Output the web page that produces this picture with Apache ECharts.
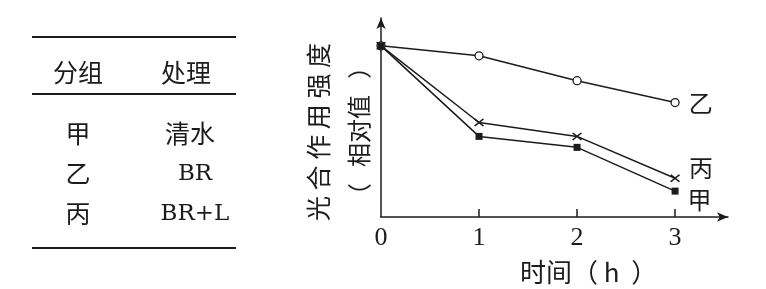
<!DOCTYPE html>
<html>
<head>
<meta charset="utf-8">
<script src="https://cdn.jsdelivr.net/npm/echarts@6/dist/echarts.min.js"></script>
<style>
html,body{margin:0;padding:0;background:#fff;}
#c{width:766px;height:289px;}
</style>
</head>
<body>
<div id="c"></div>
<script>
// ---- data ----
var hours = [0, 1, 2, 3];
var tickLabels = ['0', '1', '2', '3'];
var jiaValues = [172, 81, 70, 26];     // 甲 清水
var yiValues = [172, 162, 137, 115];   // 乙 BR
var bingValues = [172, 95, 81, 39];    // 丙 BR+L
var seriesNames = ['甲', '乙', '丙'];
var tableHeader = ['分组', '处理'];
var tableGroups = ['甲', '乙', '丙'];
var tableTreatments = ['清水', 'BR', 'BR+L'];
var yAxisTitle = ['光 合 作 用 强 度', '（   相对值   ）'];
var xAxisTitle = '时间（ h  ）';

var CJK = '"Noto Sans CJK SC", sans-serif';
var SERIF = '"Liberation Serif", "DejaVu Serif", serif';
var SERIF2 = '"DejaVu Serif", "Liberation Serif", serif';
var INK = '#1c1c1c';

function pairs(vals) {
  return hours.map(function (h, i) { return [h, vals[i]]; });
}
function endLabel(name, offset) {
  return {
    show: true,
    position: 'right',
    distance: 9,
    offset: offset,
    fontFamily: CJK,
    fontSize: 24,
    color: INK,
    formatter: function (p) { return p.dataIndex === hours.length - 1 ? name : ''; }
  };
}

var crossPath = 'path://M0,1.2 L1.2,0 L5,3.8 L8.8,0 L10,1.2 L6.2,5 L10,8.8 L8.8,10 L5,6.2 L1.2,10 L0,8.8 L3.8,5 Z';

// table graphics
var graphics = [];
[37, 94, 248].forEach(function (y) {
  graphics.push({ type: 'line', shape: { x1: 32, y1: y, x2: 236, y2: y }, style: { stroke: INK, lineWidth: 2 } });
});
graphics.push({ type: 'text', x: 78, y: 72, style: { text: tableHeader[0], font: '25px ' + CJK, fill: INK, textAlign: 'center', textVerticalAlign: 'middle' } });
graphics.push({ type: 'text', x: 186, y: 72, style: { text: tableHeader[1], font: '25px ' + CJK, fill: INK, textAlign: 'center', textVerticalAlign: 'middle' } });
var rowY = [133, 173, 213];
tableGroups.forEach(function (g, i) {
  graphics.push({ type: 'text', x: 78, y: rowY[i], style: { text: g, font: '25px ' + CJK, fill: INK, textAlign: 'center', textVerticalAlign: 'middle' } });
  var t = tableTreatments[i];
  var isLatin = /^[A-Za-z+]+$/.test(t);
  graphics.push({ type: 'text', x: isLatin ? 195 : 190, y: rowY[i] + (isLatin ? 1 : 0), style: { text: t, font: (isLatin ? '23px ' + SERIF2 : '25px ' + CJK), fill: INK, textAlign: 'center', textVerticalAlign: 'middle' } });
});
// axis titles
graphics.push({ type: 'text', x: 318, y: 132, rotation: Math.PI / 2, style: { text: yAxisTitle[0], font: '25px ' + CJK, fill: INK, textAlign: 'center', textVerticalAlign: 'middle' } });
graphics.push({ type: 'text', x: 359, y: 131, rotation: Math.PI / 2, style: { text: yAxisTitle[1], font: '24px ' + CJK, fill: INK, textAlign: 'center', textVerticalAlign: 'middle' } });
graphics.push({ type: 'text', x: 520, y: 272, style: { text: xAxisTitle, font: '26px ' + CJK, fill: INK, textAlign: 'left', textVerticalAlign: 'middle' } });

var chart = echarts.init(document.getElementById('c'), null, { renderer: 'canvas' });
chart.setOption({
  animation: false,
  backgroundColor: '#fff',
  grid: { left: 381, right: 38, top: 18, bottom: 72, containLabel: false },
  xAxis: {
    type: 'value', min: 0, max: 3.54,
    axisLine: { show: true, symbol: ['none', 'arrow'], symbolSize: [7, 11], lineStyle: { color: INK, width: 1.5 } },
    axisTick: { show: true, inside: true, length: 8, customValues: [1, 2, 3], lineStyle: { color: INK, width: 1.5 } },
    axisLabel: {
      show: true, customValues: hours, margin: 8,
      formatter: function (v) { return tickLabels[hours.indexOf(v)] || ''; },
      fontFamily: SERIF, fontSize: 26, color: INK
    },
    splitLine: { show: false }
  },
  yAxis: {
    type: 'value', min: 0, max: 200,
    axisLine: { show: true, symbol: ['none', 'arrow'], symbolSize: [7, 11], lineStyle: { color: INK, width: 1.5 } },
    axisTick: { show: false },
    axisLabel: { show: false },
    splitLine: { show: false }
  },
  graphic: graphics,
  series: [
    {
      name: seriesNames[1], type: 'line', data: pairs(yiValues), z: 3,
      symbol: 'circle', symbolSize: 8, showAllSymbol: true,
      lineStyle: { color: INK, width: 1.5 },
      itemStyle: { color: '#fff', borderColor: INK, borderWidth: 1.3 },
      label: endLabel(seriesNames[1], [0, 0])
    },
    {
      name: seriesNames[2], type: 'line', data: pairs(bingValues), z: 4,
      symbol: crossPath, symbolSize: [10, 8], showAllSymbol: true,
      lineStyle: { color: INK, width: 1.5 },
      itemStyle: { color: INK },
      label: endLabel(seriesNames[2], [0, -10])
    },
    {
      name: seriesNames[0], type: 'line', data: pairs(jiaValues), z: 5,
      symbol: 'rect', symbolSize: 7, showAllSymbol: true,
      lineStyle: { color: INK, width: 1.5 },
      itemStyle: { color: INK },
      label: endLabel(seriesNames[0], [0, 9])
    }
  ]
});
</script>
</body>
</html>
